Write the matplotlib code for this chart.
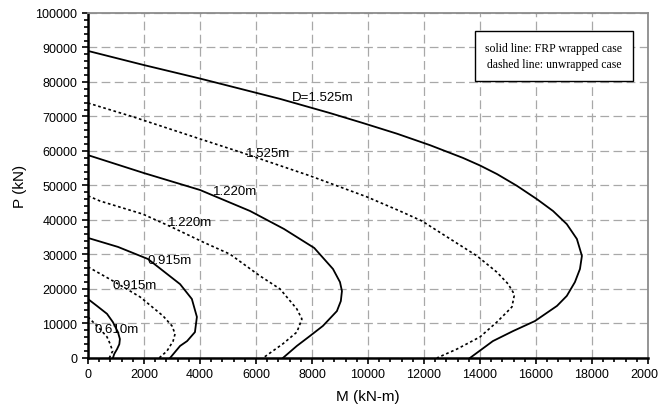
import matplotlib
matplotlib.use("Agg")
import matplotlib.pyplot as plt
from matplotlib.ticker import MultipleLocator

# curvas P-M (M en kN-m, P en kN)
# solido = con FRP, discontinuo = sin FRP
m_s1525 = [0, 2000, 4000, 6860, 8640, 9820, 11040, 12210, 13390, 14000, 14610, 15320, 16040, 16610, 17100, 17460, 17640, 17570, 17390, 17100, 16750, 15960, 15180, 14460, 13640]
p_s1525 = [89000, 84900, 81000, 75100, 71000, 68100, 65000, 61700, 58000, 55800, 53300, 49900, 46000, 42600, 38800, 34500, 29600, 25800, 22000, 18000, 15100, 10700, 7800, 4900, 0]
m_d1525 = [0, 1610, 4000, 5430, 7930, 9960, 11140, 11930, 12820, 13890, 14600, 15000, 15180, 15220, 15140, 14960, 14600, 14000, 13180, 12460]
p_d1525 = [73900, 69900, 63500, 59700, 52800, 46700, 42600, 39700, 35100, 29600, 24900, 21500, 19100, 18000, 14800, 13300, 10400, 6100, 2600, 0]

m_s1220 = [0, 2000, 4000, 5790, 7000, 8080, 8750, 9000, 9070, 9030, 8890, 8390, 7930, 7460, 6960]
p_s1220 = [58800, 53600, 48700, 42600, 37400, 31900, 25800, 22000, 19400, 16500, 13600, 9300, 6400, 3500, 0]
m_d1220 = [0, 430, 1960, 3000, 4110, 5070, 6140, 6860, 7460, 7640, 7460, 6960, 6250]
p_d1220 = [47000, 45500, 41700, 37900, 33600, 30100, 23800, 20000, 14200, 11300, 7500, 4100, 0]

m_s0915 = [0, 1070, 2140, 3290, 3710, 3890, 3820, 3540, 3290, 2930]
p_s0915 = [34800, 32200, 28700, 21400, 17100, 11900, 7500, 4900, 3500, 0]
m_d0915 = [0, 900, 1860, 2680, 3000, 3110, 3040, 2820, 2540]
p_d0915 = [26400, 22300, 17700, 12200, 9300, 7000, 4900, 2000, 0]

m_s0610 = [0, 320, 680, 890, 1070, 1140, 1120, 1040, 940, 890]
p_s0610 = [17100, 15100, 12800, 10400, 7500, 5500, 4000, 2600, 1200, 0]
m_d0610 = [0, 430, 680, 790, 880, 760]
p_d0610 = [11900, 8400, 6100, 4100, 2000, 0]

# etiquetas de las curvas
etiquetas = ["D=1.525m", "1.525m", "1.220m", "1.220m", "0.915m", "0.915m", "0.610m"]
etiq_m = [8390, 6430, 5250, 3640, 2930, 1680, 1040]
etiq_p = [75650, 59400, 48400, 39400, 28400, 21200, 8400]

plt.rcParams['font.family'] = ['Liberation Sans', 'DejaVu Sans']

fig = plt.figure(figsize=(6.58, 4.10), dpi=100)
ax = fig.add_axes([0.1337, 0.1244, 0.8511, 0.8415])

dash = (0, (1.6, 1.6))
ax.plot(m_s1525, p_s1525, color='black', lw=1.3)
ax.plot(m_d1525, p_d1525, color='black', lw=1.2, linestyle=dash)
ax.plot(m_s1220, p_s1220, color='black', lw=1.3)
ax.plot(m_d1220, p_d1220, color='black', lw=1.2, linestyle=dash)
ax.plot(m_s0915, p_s0915, color='black', lw=1.3)
ax.plot(m_d0915, p_d0915, color='black', lw=1.2, linestyle=dash)
ax.plot(m_s0610, p_s0610, color='black', lw=1.3)
ax.plot(m_d0610, p_d0610, color='black', lw=1.2, linestyle=dash)

for t, x, y in zip(etiquetas, etiq_m, etiq_p):
    ax.text(x, y, t, fontsize=9.5, ha='center', va='center')

ax.set_xlim(0, 20000)
ax.set_ylim(0, 100000)
ax.xaxis.set_major_locator(MultipleLocator(2000))
ax.xaxis.set_minor_locator(MultipleLocator(400))
ax.yaxis.set_major_locator(MultipleLocator(10000))
ax.yaxis.set_minor_locator(MultipleLocator(2000))
ax.tick_params(which='both', direction='out', labelsize=9, width=1.2, color='black')
ax.tick_params(which='major', length=4)
ax.tick_params(which='minor', length=3)
ax.grid(which='major', color='#a8a8a8', linestyle=(0, (7, 3.5)), lw=0.9)
ax.set_axisbelow(True)

for s in ['left', 'bottom']:
    ax.spines[s].set_linewidth(1.8)
    ax.spines[s].set_color('black')
for s in ['top', 'right']:
    ax.spines[s].set_linewidth(1.3)
    ax.spines[s].set_color('#8c8c8c')

ax.set_xlabel("M (kN-m)", fontsize=11, labelpad=6)
ax.set_ylabel("P (kN)", fontsize=11, labelpad=6)

# cuadro de leyenda
ax.text(0.832, 0.875, "solid line: FRP wrapped case\ndashed line: unwrapped case",
        transform=ax.transAxes, ha='center', va='center', fontsize=8.5,
        family=['Liberation Serif', 'DejaVu Serif'], linespacing=1.45,
        bbox=dict(boxstyle='square,pad=0.9', facecolor='white', edgecolor='black', lw=1.0))

fig.savefig("out.png", dpi=100)
